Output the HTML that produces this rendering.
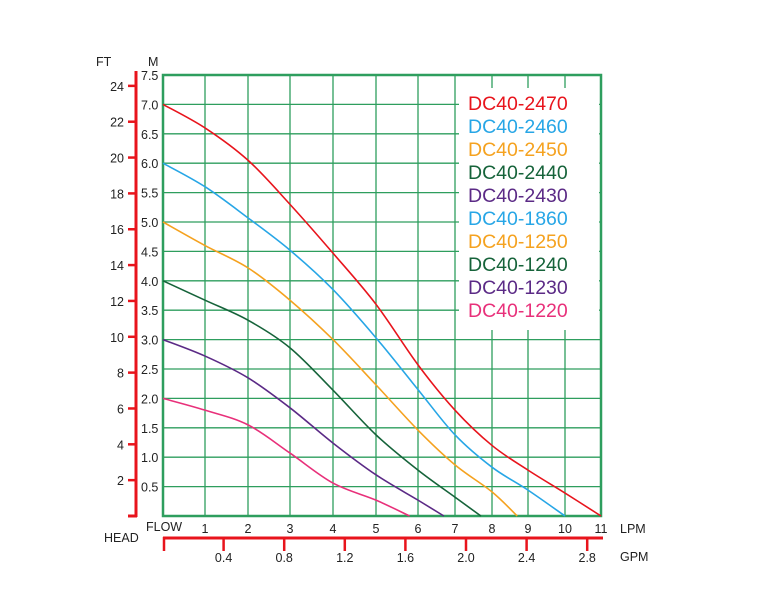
<!DOCTYPE html>
<html><head><meta charset="utf-8"><style>
body{margin:0;background:#fff;width:767px;height:595px;overflow:hidden}
svg{display:block;font-family:"Liberation Sans",Arial,sans-serif}
</style></head><body>
<svg id="c" width="767" height="595"></svg>
<script>
const lpmTicks=[1,2,3,4,5,6,7,8,9,10,11];
const lpmTickPx=[163,205,248,290,333,376,418,455,492,528,565,601]; // axis calibration (0..11)
const mTicks=["0.5","1.0","1.5","2.0","2.5","3.0","3.5","4.0","4.5","5.0","5.5","6.0","6.5","7.0","7.5"];
const ftTicks=[2,4,6,8,10,12,14,16,18,20,22,24];
const gpmTicks=["0.4","0.8","1.2","1.6","2.0","2.4","2.8"];
const names=["DC40-2470","DC40-2460","DC40-2450","DC40-2440","DC40-2430","DC40-1860","DC40-1250","DC40-1240","DC40-1230","DC40-1220"];
const legendColors=["#e8141c","#27a6e6","#f5a21f","#16633a","#5b2a86","#27a6e6","#f5a21f","#16633a","#5b2a86","#e8307a"];
const redFlow=[0,1,2,3,4,5,6,7,8,9,10,11];
const redHead=[7.0,6.6,6.05,5.3,4.47,3.6,2.57,1.8,1.2,0.78,0.39,0];
const blueFlow=[0,1,2,3,4,5,6,7,8,9,10];
const blueHead=[6.0,5.6,5.07,4.52,3.85,3.03,2.15,1.38,0.83,0.44,0];
const orangeFlow=[0,1,2,3,4,5,6,7,8,8.7];
const orangeHead=[5.0,4.6,4.22,3.67,3.0,2.23,1.46,0.87,0.41,0];
const greenFlow=[0,1,2,3,4,5,6,7,7.7];
const greenHead=[4.0,3.67,3.33,2.86,2.14,1.38,0.78,0.32,0];
const purpleFlow=[0,1,2,3,4,5,6,6.7];
const purpleHead=[3.0,2.72,2.35,1.84,1.24,0.7,0.27,0];
const pinkFlow=[0,1,2,3,4,5,5.8];
const pinkHead=[2.0,1.8,1.55,1.07,0.56,0.27,0];
const NS="http://www.w3.org/2000/svg",svg=document.getElementById('c');
function X(l){const i=Math.min(Math.floor(l),10);const f=l-i;return lpmTickPx[i]+(lpmTickPx[i+1]-lpmTickPx[i])*f;}
function Y(m){return 516-m*58.8;}
function YF(ft){return Y(ft*0.3048);}
function XG(g){return 163+g*151.5;}
function el(t,a,p){const e=document.createElementNS(NS,t);for(const k in a)e.setAttribute(k,a[k]);(p||svg).appendChild(e);return e;}
const G="#2e9e5e",R="#e8141c";
for(let i=1;i<=10;i++){const g=el('line',{x1:X(i),x2:X(i),y1:75,y2:516,stroke:G,'stroke-width':1.3});
}
for(let i=0;i<mTicks.length;i++){const v=parseFloat(mTicks[i]);const g=el('line',{x1:163,x2:601,y1:Y(v),y2:Y(v),stroke:G,'stroke-width':1.3});

const t=el('text',{x:141,y:Y(v)+5,'font-size':12.5,fill:'#222'});t.textContent=mTicks[i];
}
const lb=el('rect',{x:459,y:88,width:140,height:242,fill:'#fff'});

const fr=el('rect',{x:163,y:75,width:438,height:441,fill:'none',stroke:G,'stroke-width':2.5});

const fa=el('line',{x1:136,x2:136,y1:71,y2:517,stroke:R,'stroke-width':3});

el('line',{x1:128,x2:137,y1:516,y2:516,stroke:R,'stroke-width':3});
for(const f of ftTicks){const y=YF(f);el('line',{x1:128,x2:136,y1:y,y2:y,stroke:R,'stroke-width':2.5});
const t=el('text',{x:124,y:y+5,'font-size':12.5,fill:'#222','text-anchor':'end'});t.textContent=f;
}
let t=el('text',{x:96,y:66,'font-size':12.5,fill:'#222'});t.textContent="FT";
t=el('text',{x:148,y:66,'font-size':12.5,fill:'#222'});t.textContent="M";
for(const l of lpmTicks){const t=el('text',{x:X(l),y:533,'font-size':12.5,fill:'#222','text-anchor':'middle'});t.textContent=l;
}
t=el('text',{x:146,y:531,'font-size':12.5,fill:'#222'});t.textContent="FLOW";
t=el('text',{x:104,y:542,'font-size':12.5,fill:'#222'});t.textContent="HEAD";
t=el('text',{x:620,y:533,'font-size':12.5,fill:'#222'});t.textContent="LPM";
t=el('text',{x:620,y:561,'font-size':12.5,fill:'#222'});t.textContent="GPM";
const ga=el('line',{x1:163,x2:603,y1:538,y2:538,stroke:R,'stroke-width':3});

el('line',{x1:164,x2:164,y1:537,y2:551,stroke:R,'stroke-width':2.5});
for(const g of gpmTicks){const x=XG(parseFloat(g));el('line',{x1:x,x2:x,y1:538,y2:551,stroke:R,'stroke-width':2.5});
const t=el('text',{x:x,y:562,'font-size':12.5,fill:'#222','text-anchor':'middle'});t.textContent=g;
}
function curve(fl,hd,c,n){const p=fl.map((f,i)=>[X(f),Y(hd[i])]);let d="M"+p[0];
for(let i=0;i<p.length-1;i++){const p0=p[i-1]||p[i],p1=p[i],p2=p[i+1],p3=p[i+2]||p2;
d+=` C${p1[0]+(p2[0]-p0[0])/6},${p1[1]+(p2[1]-p0[1])/6} ${p2[0]-(p3[0]-p1[0])/6},${p2[1]-(p3[1]-p1[1])/6} ${p2[0]},${p2[1]}`;}
const e=el('path',{d:d,fill:'none',stroke:c,'stroke-width':1.6});
}
curve(redFlow,redHead,"#e8141c","curve-2470");
curve(blueFlow,blueHead,"#27a6e6","curve-2460");
curve(orangeFlow,orangeHead,"#f5a21f","curve-2450");
curve(greenFlow,greenHead,"#16633a","curve-2440");
curve(purpleFlow,purpleHead,"#5b2a86","curve-2430");
curve(pinkFlow,pinkHead,"#e8307a","curve-1220");
for(let i=0;i<names.length;i++){const t=el('text',{x:468,y:110+i*23,'font-size':19.5,fill:legendColors[i]});t.textContent=names[i];
}
</script>
</body></html>
